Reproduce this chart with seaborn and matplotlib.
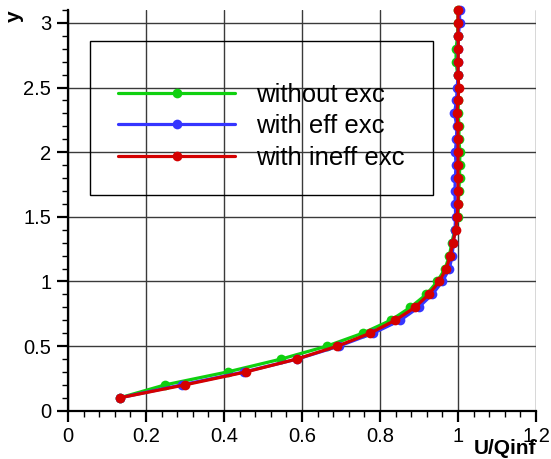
import numpy as np
import pandas as pd
import matplotlib
matplotlib.use("Agg")
import matplotlib.pyplot as plt
from matplotlib.ticker import MultipleLocator, FuncFormatter
from matplotlib.patches import Rectangle
import seaborn as sns

# Velocity profiles: wall distance y and normalised velocity U/Qinf
y_levels = [0.1, 0.2, 0.3, 0.4, 0.5, 0.6, 0.7, 0.8, 0.9, 1.0,
            1.1, 1.2, 1.3, 1.4, 1.5, 1.6, 1.7, 1.8, 1.9, 2.0,
            2.1, 2.2, 2.3, 2.4, 2.5, 2.6, 2.7, 2.8, 2.9, 3.0, 3.1]

u_without = [0.133, 0.249, 0.409, 0.547, 0.664, 0.756, 0.828, 0.878, 0.919, 0.947,
             0.967, 0.978, 0.984, 0.992, 1.000, 1.001, 1.002, 1.004, 1.004, 1.005,
             1.002, 1.003, 1.000, 1.001, 1.000, 0.999, 0.995, 0.995, 0.999, 1.000, 1.000]

u_eff = [0.133, 0.292, 0.452, 0.588, 0.695, 0.783, 0.852, 0.899, 0.934, 0.960,
         0.978, 0.985, 0.988, 0.992, 0.994, 0.993, 0.992, 0.993, 0.995, 0.993,
         0.996, 0.997, 0.991, 0.996, 0.998, 1.000, 1.000, 1.000, 1.001, 1.004, 1.004]

u_ineff = [0.133, 0.300, 0.456, 0.587, 0.691, 0.775, 0.839, 0.890, 0.925, 0.952,
           0.970, 0.980, 0.987, 0.994, 0.998, 1.000, 1.000, 1.000, 1.000, 1.000,
           1.000, 1.000, 0.997, 1.000, 1.002, 1.000, 1.000, 1.001, 1.000, 1.000, 1.000]

series_names = ["without exc", "with eff exc", "with ineff exc"]
series_colors = ["#0fd00f", "#3535ff", "#d40000"]

df = pd.concat([
    pd.DataFrame({"U": u, "y": y_levels, "case": name})
    for u, name in zip([u_without, u_eff, u_ineff], series_names)
], ignore_index=True)

sns.set_style("white")
plt.rcParams["font.family"] = ["Liberation Sans", "DejaVu Sans"]
plt.rcParams["text.color"] = "black"
plt.rcParams["axes.labelcolor"] = "black"

fig = plt.figure(figsize=(5.51, 4.59), dpi=100)
ax = fig.add_axes([0.1234, 0.1052, 0.8494, 0.8730])

sns.lineplot(data=df, x="U", y="y", hue="case", hue_order=series_names,
             palette=series_colors, sort=False, estimator=None,
             marker="o", markersize=7, markeredgewidth=0, linewidth=2.3,
             legend=False, ax=ax, clip_on=False, zorder=3)

ax.set_xlim(0, 1.2)
ax.set_ylim(0, 3.1)

ax.xaxis.set_major_locator(MultipleLocator(0.2))
ax.xaxis.set_minor_locator(MultipleLocator(0.04))
ax.yaxis.set_major_locator(MultipleLocator(0.5))
ax.yaxis.set_minor_locator(MultipleLocator(0.1))
fmt = FuncFormatter(lambda v, pos: f"{v:g}")
ax.xaxis.set_major_formatter(fmt)
ax.yaxis.set_major_formatter(fmt)

ax.grid(True, which="major", color="#3a3a3a", linewidth=1.0)
ax.set_axisbelow(True)

for side in ["top", "right"]:
    ax.spines[side].set_visible(False)
for side in ["left", "bottom"]:
    ax.spines[side].set_linewidth(1.6)
    ax.spines[side].set_color("black")

ax.tick_params(which="major", direction="out", length=8, width=1.6,
               labelsize=14.5, colors="black", pad=4, left=True, bottom=True)
ax.tick_params(which="minor", direction="out", length=4, width=1.0,
               colors="black", left=True, bottom=True)

ax.set_xlabel("U/Qinf", fontsize=15, fontweight="bold")
ax.xaxis.set_label_coords(0.934, -0.071)
ax.set_ylabel("y", fontsize=15, fontweight="bold", rotation=90)
ax.yaxis.set_label_coords(-0.094, 0.985)

# Legend frame and entries
ax.add_patch(Rectangle((0.047, 0.539), 0.733, 0.384, transform=ax.transAxes,
                       fill=False, edgecolor="black", linewidth=1.0, zorder=2))
handles = [plt.Line2D([], [], color=c, linewidth=2.3, marker="o",
                      markersize=7, markeredgewidth=0)
           for c in series_colors]
ax.legend(handles, series_names, loc="upper left",
          bbox_to_anchor=(0.107, 0.8185), frameon=False, fontsize=18.5,
          handlelength=4.55, handletextpad=0.8, labelspacing=0.29,
          borderpad=0, borderaxespad=0, markerscale=1.0)

fig.savefig("out.png", dpi=100)
